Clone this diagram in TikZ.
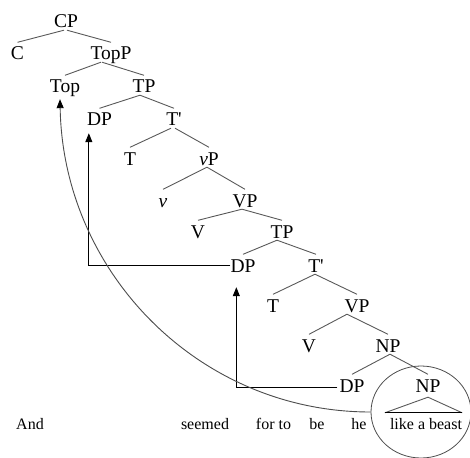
\documentclass[tikz,border=0pt]{standalone}
\usepackage{fontspec}
\setmainfont{Liberation Serif}
\usetikzlibrary{arrows.meta,shapes.geometric}
\tikzset{
  lab/.style={inner xsep=0pt, inner ysep=2pt, text height=12.5pt, text depth=0pt,
    anchor=base, font=\fontsize{19.5}{22}\selectfont},
  word/.style={inner xsep=0pt, inner ysep=0pt, text height=11pt, text depth=0pt,
    anchor=base, font=\fontsize{16}{19}\selectfont},
  branch/.style={draw=black!65, line width=0.9pt},
  arr/.style={draw=black, line width=1pt, -{Triangle[length=9pt,width=7pt]}},
  curvearr/.style={draw=black!70, line width=0.9pt, -{Triangle[length=9pt,width=7pt,color=black]}},
  ring/.style={draw=black!70, line width=0.8pt, ellipse, inner sep=0pt,
    minimum width=100pt, minimum height=92pt}
}
\begin{document}
\begin{tikzpicture}[x=1pt,y=-1pt]
\useasboundingbox (0,0) rectangle (470,457);
% tree labels
\node[lab] (CP)   at (66,28)  {CP};
\node[lab] (C)    at (17.5,60) {C};
\node[lab] (TopP) at (111,60) {TopP};
\node[lab] (Top)  at (65,93)  {Top};
\node[lab] (TP1)  at (144,93) {TP};
\node[lab] (DP1)  at (99.5,126) {DP};
\node[lab] (Tb1)  at (174,126) {T\textquotesingle};
\node[lab] (T1)   at (130,165) {T};
\node[lab] (vP)   at (209,165) {\textit{v}P};
\node[lab] (v)    at (163,207) {\textit{v}};
\node[lab] (VP1)  at (245,207) {VP};
\node[lab] (V1)   at (198,238) {V};
\node[lab] (TP2)  at (282,238) {TP};
\node[lab] (DP2)  at (243,272) {DP};
\node[lab] (Tb2)  at (316,272) {T\textquotesingle};
\node[lab] (T2)   at (273,312) {T};
\node[lab] (VP2)  at (357,312) {VP};
\node[lab] (V2)   at (309,352) {V};
\node[lab] (NP1)  at (388,352) {NP};
\node[lab] (DP3)  at (352,392) {DP};
\node[lab] (NP2)  at (428,392) {NP};
% sentence
\node[word] (w1) at (30,429)  {And};
\node[word] (w2) at (205,429) {seemed};
\node[word] (w3) at (273.5,429) {for to};
\node[word] (w4) at (317,429) {be};
\node[word] (w5) at (359,429) {he};
\node[word] (w6) at (426,429) {like a beast};
% branches
\foreach \p/\c/\s in {CP/C/-2, CP/TopP/1, TopP/Top/-10, TopP/TP1/-9,
    TP1/DP1/-4, TP1/Tb1/-4, Tb1/T1/-3, Tb1/vP/1, vP/v/-2, vP/VP1/-2,
    VP1/V1/-3, VP1/TP2/-3, TP2/DP2/-5, TP2/Tb2/-5, Tb2/T2/-1, Tb2/VP2/-1,
    VP2/V2/-10, VP2/NP1/-10, NP1/DP3/2, NP1/NP2/2}
  \draw[branch] ([xshift=\s pt]\p.south) -- ([yshift=3pt]\c.north);
% triangle over "like a beast"
\coordinate (apex) at ([yshift=-3pt]NP2.south);
\coordinate (bl) at ([shift={(-5pt,5pt)}]w6.north west);
\coordinate (br) at ([shift={(0pt,5pt)}]w6.north east);
\draw[branch] (bl) -- (apex) -- (br);
\draw[black, line width=1pt] (bl) -- (br);
% circle
\node[ring] (ring) at (421,412) {};
% movement arrows
\coordinate (a1) at ([shift={(2pt,-5pt)}]DP1.south west);
\draw[arr] (DP2.west) -| (a1);
\coordinate (s2) at ([shift={(-2pt,-2pt)}]DP3.west);
\coordinate (a2) at ([shift={(6pt,-13pt)}]DP2.south west);
\draw[arr] (s2) -| (a2);
\coordinate (topend) at ([shift={(-5pt,-4pt)}]Top.south);
\draw[curvearr] (ring.west) .. controls +(-172pt,0pt) and +(3pt,-173pt) .. (topend);
\end{tikzpicture}
\end{document}
